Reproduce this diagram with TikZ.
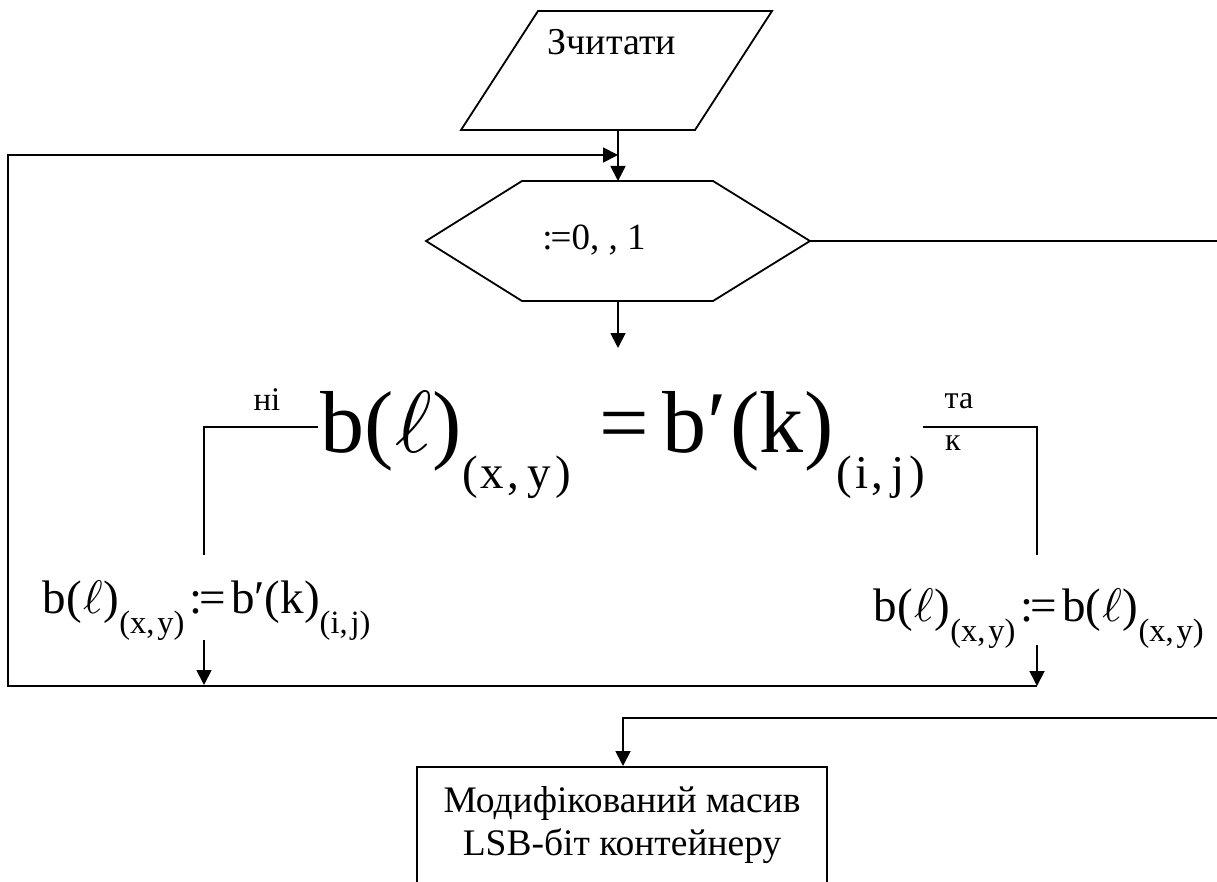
\documentclass[tikz,border=0pt]{standalone}
\usepackage{graphicx}
\usepackage{fontspec}
\setmainfont{Liberation Serif}
\usetikzlibrary{arrows.meta}
\newcommand\mysub[3]{\raisebox{-#2}{\fontsize{#1}{#1}\selectfont #3}}
\newcommand\myell[1]{\kern1pt\scalebox{#1}{\normalsize$\ell$}\kern1pt}
\begin{document}
\begin{tikzpicture}[x=1pt,y=-1pt,line width=1.8pt,
  arr/.style={-{Triangle[length=15pt,width=15pt]}},
  txt/.style={inner sep=0pt,anchor=base,font=\fontsize{37.5}{43}\selectfont},
  lbl/.style={inner sep=0pt,anchor=base,font=\fontsize{32}{42}\selectfont}]
\useasboundingbox (0,0) rectangle (1217,882);
\clip (0,0) rectangle (1217,882);
% input parallelogram
\draw (538,11) -- (772,11) -- (695,130) -- (461,130) -- cycle;
\node[txt,font=\fontsize{38}{43}\selectfont] (read) at (612,55) {Зчитати};
\coordinate (readout) at (618,130);
% loop hexagon
\draw (522,181) -- (713,181) -- (810,241) -- (713,301) -- (522,301) -- (426,241) -- cycle;
\node[txt,font=\fontsize{37}{40}\selectfont] (loop) at (594,250) {:\kern-2pt=0, , 1};
\coordinate (hexin) at (618,181);
\coordinate (hexout) at (618,301);
\coordinate (hexright) at (810,241);
% condition
\node[inner sep=0pt,anchor=base west] (cond) at (320,452)
  {\fontsize{88}{88}\selectfont b(\myell{8.8})\mysub{47}{36pt}{(\kern3pt x\kern3pt,\kern8pt y\kern5pt)}\kern28pt=\kern14pt b\kern1pt′\kern3pt(k\kern1pt)\kern3pt\mysub{47}{36pt}{(\kern3pt i\kern3pt,\kern8pt j\kern5pt)}};
\coordinate (condin) at (618,348);
\node[lbl,font=\fontsize{33}{42}\selectfont] (no) at (267,410) {ні};
\node[lbl] (yes1) at (959,408) {та};
\node[lbl] (yes2) at (953,450) {к};
% actions
\node[inner sep=0pt,anchor=base west] (act1) at (42,613)
  {\fontsize{47}{47}\selectfont b(\myell{4.7})\mysub{32.5}{20pt}{(x,\kern3pt y)}\kern5pt:\kern-3pt=\kern5pt b′(k)\mysub{32.5}{20pt}{(i,\kern3pt j)}};
\node[inner sep=0pt,anchor=base west] (act2) at (873,621)
  {\fontsize{47}{47}\selectfont b(\myell{4.7})\mysub{32.5}{20pt}{(x,\kern3pt y)}\kern5pt:\kern-3pt=\kern5pt b(\myell{4.7})\mysub{32.5}{20pt}{(x,\kern3pt y)}};
% output box
\node[draw,minimum width=410pt,minimum height=170pt,anchor=north,inner sep=0pt] (out) at (622,766) {};
\node[txt] (out1) at (622,812) {Модифікований масив};
\node[txt] (out2) at (622,855) {LSB-біт контейнеру};
% connectors
\coordinate (nL0) at (318,427);
\coordinate (nL1) at (204,427);
\coordinate (nL2) at (204,555);
\coordinate (nL3) at (204,640);
\coordinate (nL4) at (204,685);
\coordinate (yR0) at (923,427);
\coordinate (yR1) at (1037,427);
\coordinate (yR2) at (1037,555);
\coordinate (yR3) at (1037,645);
\coordinate (yR4) at (1037,686);
\coordinate (lb) at (8,686);
\coordinate (lt) at (8,155);
\coordinate (lend) at (618,155);
\coordinate (ex1) at (1232,241);
\coordinate (ex2) at (1232,718);
\coordinate (ex3) at (623,718);
\draw[arr] (readout) -- (hexin);
\draw[arr] (hexout) -- (condin);
\draw (nL0) -- (nL1) -- (nL2);
\draw[arr] (nL3) -- (nL4);
\draw (yR0) -- (yR1) -- (yR2);
\draw[arr] (yR3) -- (yR4);
\draw[arr] (yR4) -- (lb) -- (lt) -- (lend);
\draw[arr] (hexright) -- (ex1) -- (ex2) -- (ex3) -- (out.north -| ex3);
\end{tikzpicture}
\end{document}
